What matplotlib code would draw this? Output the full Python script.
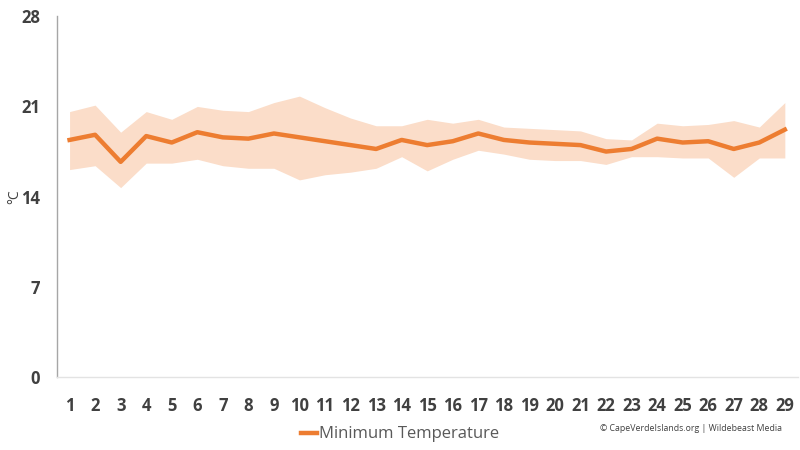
import numpy as np
import matplotlib
matplotlib.use('Agg')
import matplotlib.pyplot as plt

plt.rcParams['font.family'] = ['Open Sans', 'DejaVu Sans']

days = list(range(1, 30))
min_temp = [18.4, 18.8, 16.7, 18.7, 18.2, 19.0, 18.6, 18.5, 18.9, 18.6,
            18.3, 18.0, 17.7, 18.4, 18.0, 18.3, 18.9, 18.4, 18.2, 18.1,
            18.0, 17.5, 17.7, 18.5, 18.2, 18.3, 17.7, 18.2, 19.2]
upper = [20.6, 21.1, 19.0, 20.6, 20.0, 21.0, 20.7, 20.6, 21.3, 21.8,
         20.9, 20.1, 19.5, 19.5, 20.0, 19.7, 20.0, 19.4, 19.3, 19.2,
         19.1, 18.5, 18.4, 19.7, 19.5, 19.6, 19.9, 19.4, 21.3]
lower = [16.1, 16.4, 14.7, 16.6, 16.6, 16.9, 16.4, 16.2, 16.2, 15.3,
         15.7, 15.9, 16.2, 17.1, 16.0, 16.9, 17.6, 17.3, 16.9, 16.8,
         16.8, 16.5, 17.1, 17.1, 17.0, 17.0, 15.5, 17.0, 17.0]
y_ticks = [0, 7, 14, 21, 28]

fig = plt.figure(figsize=(8, 4.5), dpi=100)
ax = fig.add_axes([0.071, 0.162, 0.926, 0.802])

ax.fill_between(days, lower, upper, color='#FBDDC9', linewidth=0)
ax.plot(days, min_temp, color='#ED7D31', linewidth=3.2, label='Minimum Temperature')

ax.set_xlim(0.5, 29.5)
ax.set_ylim(0, 28)
ax.set_xticks(days)
ax.set_yticks(y_ticks)
ax.tick_params(axis='both', length=0, labelsize=12, colors='#404040')
ax.tick_params(axis='x', pad=14)
ax.tick_params(axis='y', pad=12)
for lbl in ax.get_xticklabels() + ax.get_yticklabels():
    lbl.set_fontweight('bold')

for s in ['top', 'right']:
    ax.spines[s].set_visible(False)
ax.spines['left'].set_color('#A6A6A6')
ax.spines['left'].set_linewidth(1)
ax.spines['bottom'].set_color('#E3E3E3')
ax.spines['bottom'].set_linewidth(1)

# y label placed by hand so it stays inside the figure
fig.text(0.019, 0.564, '°C', fontsize=10, color='#404040', rotation=90,
         ha='center', va='center')

ax.legend(loc='upper center', bbox_to_anchor=(0.463, -0.095), frameon=False,
          fontsize=12, handlelength=1.0, handletextpad=0.1, labelcolor='#595959')

fig.text(0.978, 0.043, '© CapeVerdeIslands.org | Wildebeast Media', fontsize=6.3,
         color='#404040', ha='right')

fig.savefig('out.png', dpi=100)
